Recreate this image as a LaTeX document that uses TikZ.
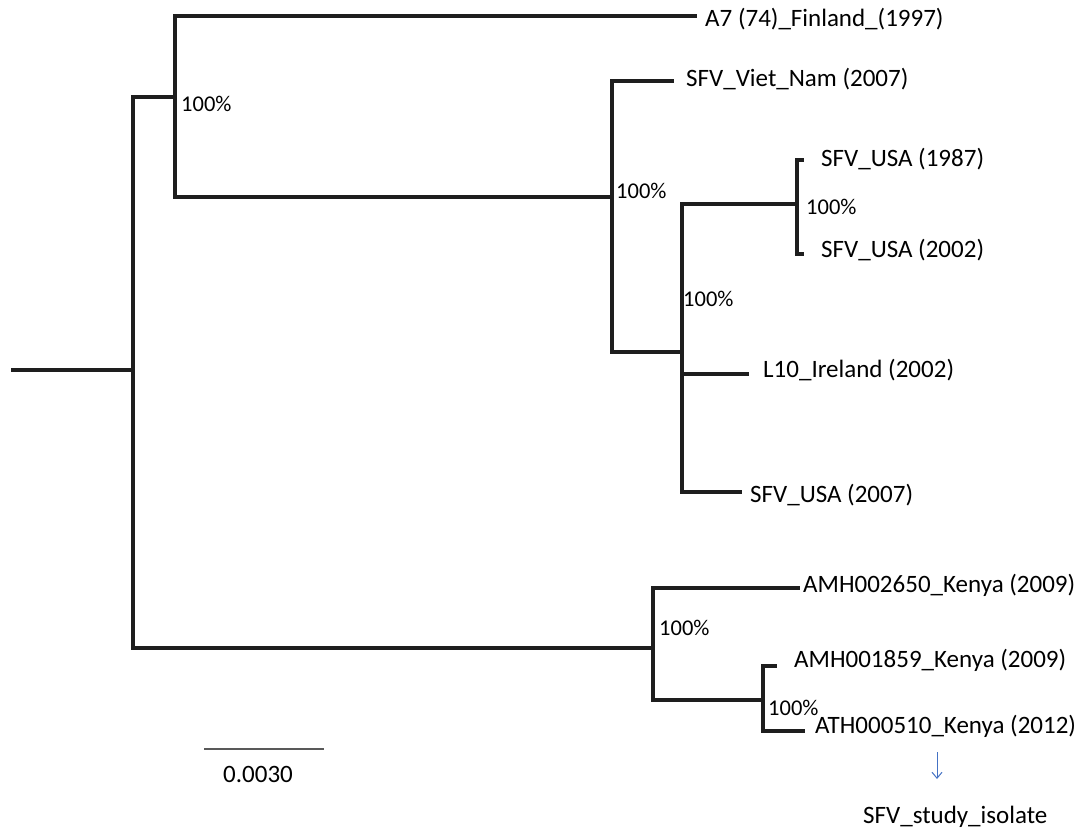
\documentclass[tikz,border=0pt]{standalone}
\usepackage{fontspec}
\setmainfont{Carlito}
\usetikzlibrary{arrows.meta}
\definecolor{treeline}{HTML}{1E1E1E}
\definecolor{arrowblue}{HTML}{4472C4}
\begin{document}
\begin{tikzpicture}[x=1pt,y=-1pt,
  branch/.style={draw=treeline,line width=3.3pt,line cap=rect,line join=miter},
  leaflabel/.style={anchor=base west,inner sep=0pt,font=\fontsize{25}{30}\selectfont},
  support/.style={anchor=base west,inner sep=0pt,font=\fontsize{22.5}{27}\selectfont},
  scalebar/.style={draw=black!65,line width=2.4pt},
  studyarrow/.style={draw=arrowblue,line width=1pt,-{Straight Barb[length=6pt,width=10pt]}}]
\useasboundingbox[fill=white] (0,0) rectangle (1084,830);
% tree node coordinates
\coordinate (root) at (13,370);
\coordinate (n0) at (133,370);
\coordinate (nA) at (175,97);
\coordinate (tA7) at (695,16);
\coordinate (nB) at (612,197);
\coordinate (tViet) at (672,81);
\coordinate (nC) at (682,352);
\coordinate (nD) at (797,204);
\coordinate (tUSA87) at (802,160);
\coordinate (tUSA02) at (802,254);
\coordinate (tL10) at (747,374);
\coordinate (tUSA07) at (740,492);
\coordinate (nE) at (653,648);
\coordinate (tAMH2650) at (798,588);
\coordinate (nF) at (763,700);
\coordinate (tAMH1859) at (775,666);
\coordinate (tATH) at (803,731);
% branches
\draw[branch] (root) -- (n0);
\draw[branch] (n0) |- (nA);
\draw[branch] (n0) |- (nE);
\draw[branch] (nA) |- (tA7);
\draw[branch] (nA) |- (nB);
\draw[branch] (nB) |- (tViet);
\draw[branch] (nB) |- (nC);
\draw[branch] (nC) |- (nD);
\draw[branch] (nC) |- (tL10);
\draw[branch] (nC) |- (tUSA07);
\draw[branch] (nD) |- (tUSA87);
\draw[branch] (nD) |- (tUSA02);
\draw[branch] (nE) |- (tAMH2650);
\draw[branch] (nE) |- (nF);
\draw[branch] (nF) |- (tAMH1859);
\draw[branch] (nF) |- (tATH);
% leaf labels
\node[leaflabel] (lA7) at (705,26) {A7 (74)\_Finland\_(1997)};
\node[leaflabel] (lViet) at (686,86) {SFV\_Viet\_Nam (2007)};
\node[leaflabel] (lUSA87) at (821,166) {SFV\_USA (1987)};
\node[leaflabel] (lUSA02) at (821,257) {SFV\_USA (2002)};
\node[leaflabel] (lL10) at (763,377) {L10\_Ireland (2002)};
\node[leaflabel] (lUSA07) at (750,502) {SFV\_USA (2007)};
\node[leaflabel] (lAMH2650) at (803,592) {AMH002650\_Kenya (2009)};
\node[leaflabel] (lAMH1859) at (794,667) {AMH001859\_Kenya (2009)};
\node[leaflabel] (lATH) at (815,733) {ATH000510\_Kenya (2012)};
% support values
\node[support] (sA) at (181,111) {100\%};
\node[support] (sB) at (616,198) {100\%};
\node[support] (sC) at (683,306) {100\%};
\node[support] (sD) at (806,214) {100\%};
\node[support] (sE) at (659,635) {100\%};
\node[support] (sF) at (768,715) {100\%};
% scale bar
\coordinate (sbL) at (204,749);
\coordinate (sbR) at (324,749);
\draw[scalebar] (sbL) -- (sbR);
\node[leaflabel] (sblabel) at (223,782) {0.0030};
% study isolate marker
\coordinate (arTop) at (937,752);
\coordinate (arBot) at (937,779);
\draw[studyarrow] (arTop) -- (arBot);
\node[leaflabel] (study) at (863,823) {SFV\_study\_isolate};
\end{tikzpicture}
\end{document}
